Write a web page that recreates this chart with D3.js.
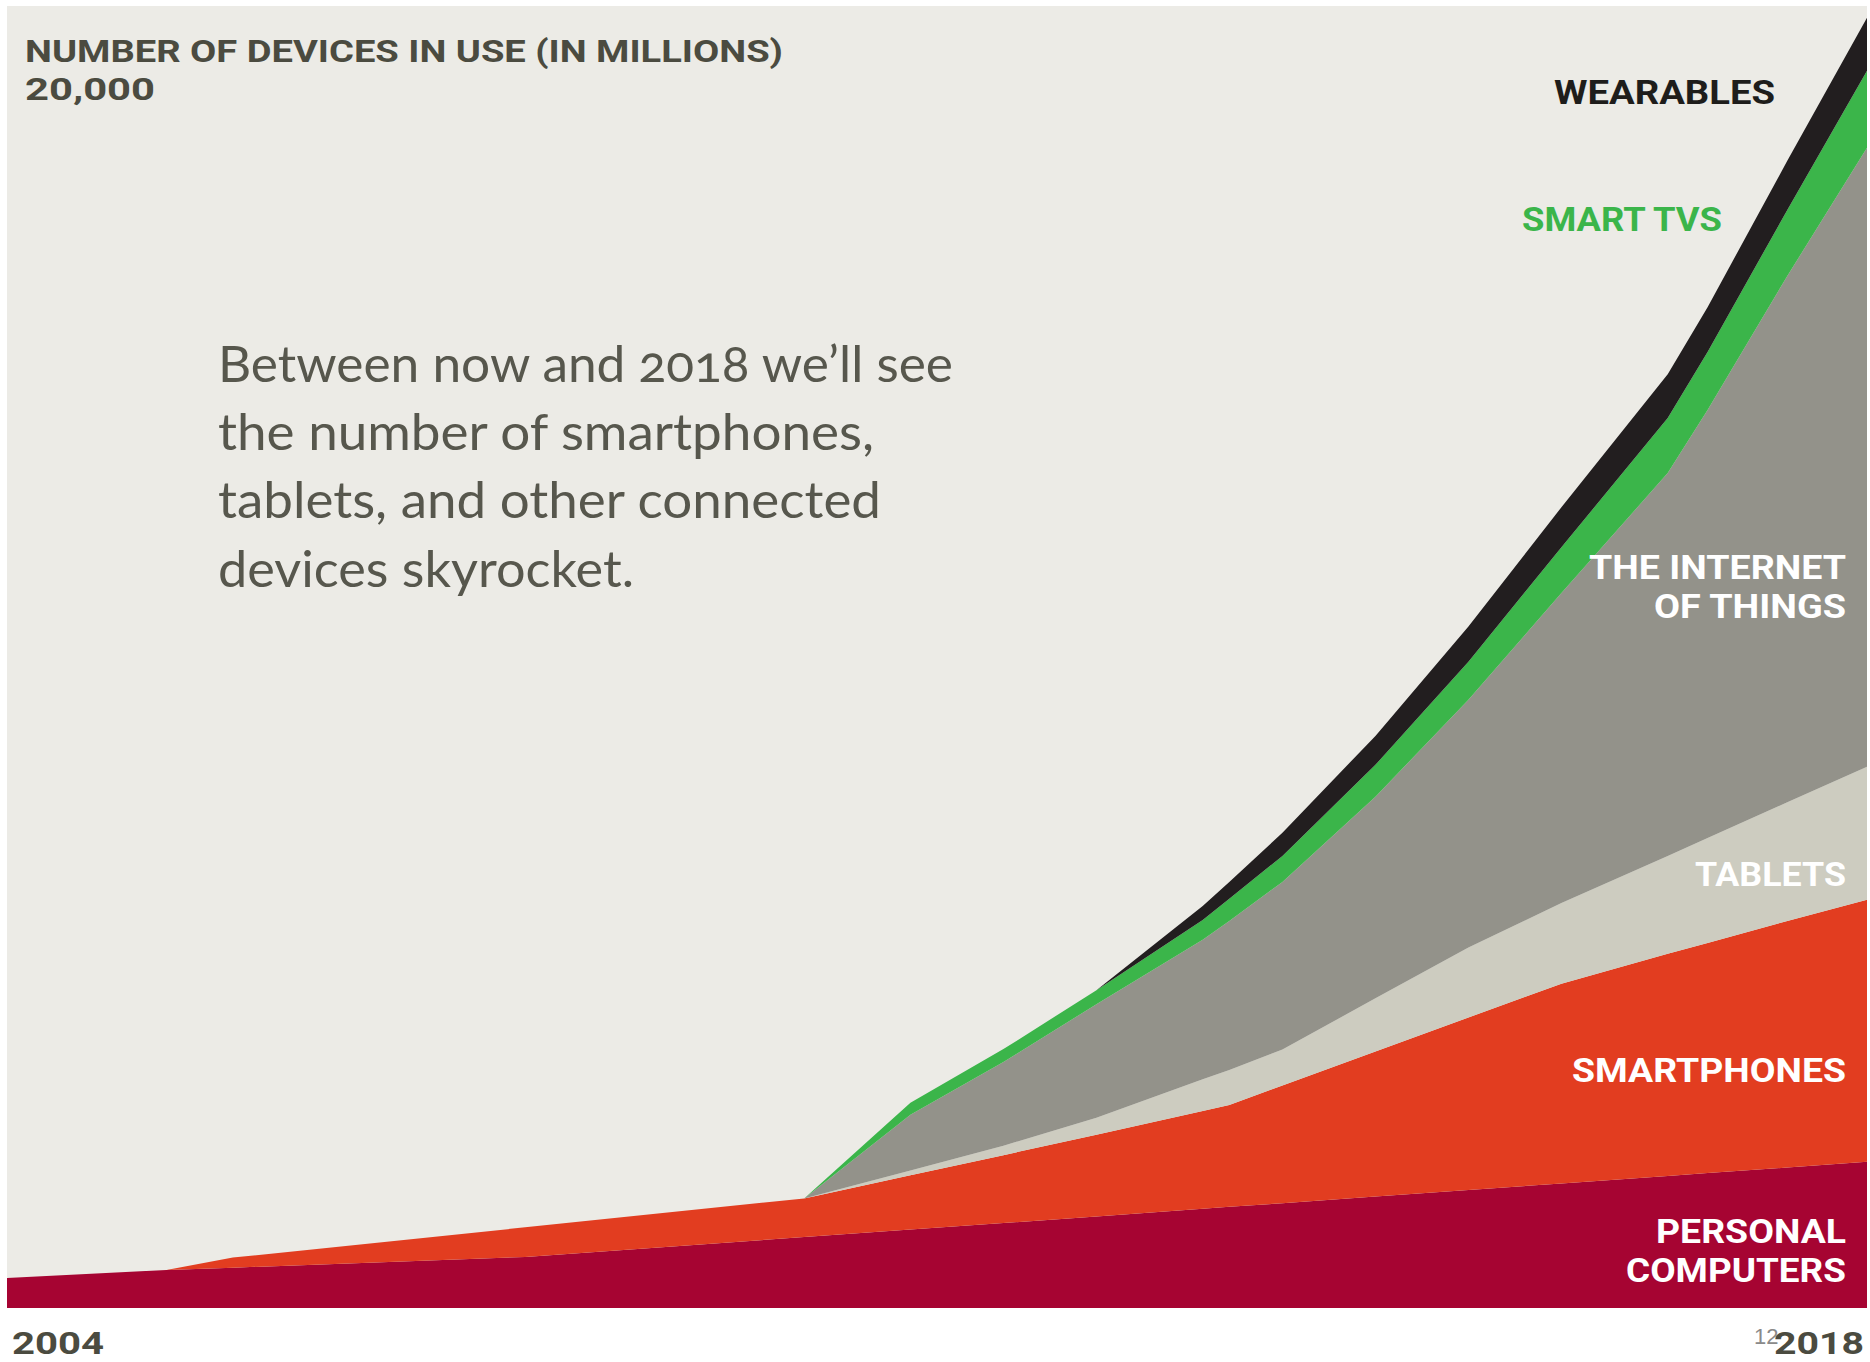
<!DOCTYPE html>
<html>
<head>
<meta charset="utf-8">
<script src="https://cdn.jsdelivr.net/npm/d3@7"></script>
<style>
  html, body { margin: 0; padding: 0; background: #ffffff; }
  svg { display: block; }
</style>
</head>
<body>
<svg id="chart" width="1870" height="1362"></svg>
<script>
// Devices in use, millions, per device family (stacked bottom to top)
const years             = [2004, 2005.2, 2005.7, 2007.9, 2010, 2010.8, 2011.5, 2012.2, 2013, 2013.2, 2013.6, 2014.3, 2015, 2015.7, 2016.5, 2016.8, 2017.4, 2018];
const personalComputers = [460, 585, 620, 785, 1090, 1205, 1305, 1405, 1525, 1555, 1610, 1715, 1815, 1915, 2030, 2075, 2160, 2250];
const smartphones       = [0, 0, 155, 455, 595, 835, 1045, 1260, 1505, 1565, 1810, 2230, 2650, 3070, 3415, 3535, 3790, 4025];
const tablets           = [0, 0, 0, 0, 0, 75, 145, 260, 485, 540, 555, 815, 1075, 1240, 1505, 1615, 1825, 2045];
const internetOfThings  = [0, 0, 0, 0, 0, 855, 1285, 1745, 2145, 2290, 2575, 3100, 3810, 4765, 5885, 6580, 8090, 9515];
const smartTVs          = [0, 0, 0, 0, 0, 185, 200, 215, 305, 340, 400, 490, 585, 705, 845, 890, 1015, 1185];
const wearables         = [0, 0, 0, 0, 0, 0, 0, 0, 215, 260, 355, 445, 540, 615, 675, 690, 755, 815];

const seriesKeys   = ["personalComputers", "smartphones", "tablets", "internetOfThings", "smartTVs", "wearables"];
const seriesLabels = [["PERSONAL", "COMPUTERS"], ["SMARTPHONES"], ["TABLETS"], ["THE INTERNET", "OF THINGS"], ["SMART TVS"], ["WEARABLES"]];

const yAxisTitle   = "NUMBER OF DEVICES IN USE (IN MILLIONS)";
const yMax         = 20000;
const yMaxLabel    = "20,000";
const xTickLabels  = [2004, 2018];
const headline     = ["Between now and 2018 we\u2019ll see", "the number of smartphones,", "tablets, and other connected", "devices skyrocket."];
const pageNumber   = "12";

// ---- layout & style ----
const colors = {
  personalComputers: "#A60432",
  smartphones: "#E23D20",
  tablets: "#CDCCC0",
  internetOfThings: "#93928A",
  smartTVs: "#3BB54A",
  wearables: "#221E1F"
};
const panel = { x: 7, y: 6, w: 1860, h: 1302 };
const labelFont = "Roboto, 'Liberation Sans', sans-serif";

const series = { personalComputers, smartphones, tablets, internetOfThings, smartTVs, wearables };
const rows = years.map((yr, i) => {
  const r = { year: yr };
  seriesKeys.forEach(k => { r[k] = series[k][i]; });
  return r;
});

const svg = d3.select("#chart");

const x = d3.scaleLinear().domain([xTickLabels[0], xTickLabels[1]]).range([panel.x, panel.x + panel.w]);
const y = d3.scaleLinear().domain([0, yMax]).range([panel.y + panel.h, panel.y + 1]);

// background panel
svg.append("rect")
  .attr("x", panel.x).attr("y", panel.y)
  .attr("width", panel.w).attr("height", panel.h)
  .attr("fill", "#ECEBE6");

// stacked areas
const layers = d3.stack().keys(seriesKeys)(rows);
const area = d3.area()
  .x(d => x(d.data.year))
  .y0(d => y(d[0]))
  .y1(d => y(d[1]))
  .curve(d3.curveLinear);

svg.append("g").selectAll("path")
  .data(layers)
  .join("path")
  .attr("d", area)
  .attr("fill", d => colors[d.key]);

// helper for labels fitted to a set width
function fitText(g, str, px, py, width, opts) {
  return g.append("text")
    .attr("x", px).attr("y", py)
    .attr("text-anchor", opts.anchor || "start")
    .attr("font-family", opts.family || labelFont)
    .attr("font-weight", opts.weight || 700)
    .attr("font-size", opts.size)
    .attr("fill", opts.fill)
    .attr("textLength", width)
    .attr("lengthAdjust", "spacingAndGlyphs")
    .style("font-feature-settings", opts.features || "normal")
    .text(str);
}

// y title and top value
const titleG = svg.append("g");
fitText(titleG, yAxisTitle, 25, 62, 758, { size: 32, fill: "#4B4B40" });
fitText(titleG, yMaxLabel, 25, 100, 130, { size: 32, fill: "#4B4B40" });

// series labels (right aligned)
const labelSpec = {
  wearables:         { x: 1775, y: [104], w: [221], fill: "#1E1D1B" },
  smartTVs:          { x: 1722, y: [231], w: [200], fill: "#3BB54A" },
  internetOfThings:  { x: 1846, y: [579, 618], w: [257, 192], fill: "#FFFFFF" },
  tablets:           { x: 1846, y: [886], w: [151], fill: "#FFFFFF" },
  smartphones:       { x: 1846, y: [1082], w: [274], fill: "#FFFFFF" },
  personalComputers: { x: 1846, y: [1243, 1282], w: [190, 220], fill: "#FFFFFF" }
};
const labelsG = svg.append("g");
seriesKeys.forEach((k, i) => {
  const s = labelSpec[k];
  seriesLabels[i].forEach((line, j) => {
    fitText(labelsG, line, s.x, s.y[j], s.w[j], { size: 34, fill: s.fill, anchor: "end" });
  });
});

// headline copy
const headG = svg.append("g");
const headBase = [382, 450, 518, 587];
const headWidth = [735, 656, 663, 416];
headline.forEach((line, i) => {
  fitText(headG, line, 218, headBase[i], headWidth[i],
    { size: 50, fill: "#57574D", weight: 400, family: "Lato, 'Open Sans', sans-serif", features: "'onum' 1" });
});

// x extent labels and page number
const footG = svg.append("g");
footG.append("text")
  .attr("x", 1754).attr("y", 1344)
  .attr("font-family", "'Liberation Sans', Arial, sans-serif")
  .attr("font-size", 22)
  .attr("fill", "#8A8A8A")
  .text(pageNumber);
fitText(footG, String(xTickLabels[0]), 12, 1354, 92, { size: 32, fill: "#4B4B40" });
fitText(footG, String(xTickLabels[1]), 1864, 1354, 90, { size: 32, fill: "#4B4B40", anchor: "end" });
</script>
</body>
</html>
